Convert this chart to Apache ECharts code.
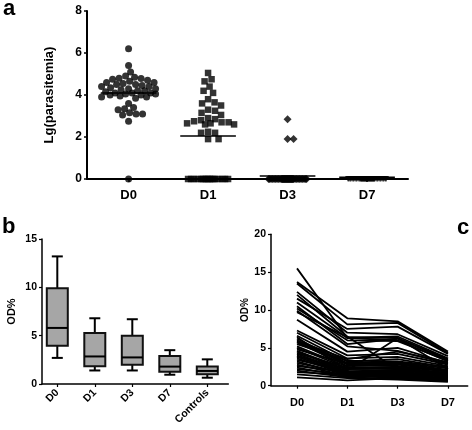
<!DOCTYPE html>
<html><head><meta charset="utf-8">
<script src="https://cdn.jsdelivr.net/npm/echarts@6/dist/echarts.min.js"></script>
<style>html,body{margin:0;padding:0;background:#fff}#c{width:472px;height:430px}</style>
</head><body><div id="c"></div>
<script>
// ---- Panel a: Lg(parasitemia) per day ----
const daysA = ['D0','D1','D3','D7'];
const lgD0 = [6.2,5.4,5.1,4.9,4.85,4.8,4.78,4.75,4.7,4.65,4.6,4.6,4.55,4.5,4.5,4.45,4.4,4.4,4.35,4.3,4.3,4.25,4.2,4.2,4.15,4.1,4.1,4.1,4.05,4.05,4.0,4.0,3.95,3.9,3.9,3.85,3.6,3.4,3.35,3.3,3.15,3.1,3.1,3.05,2.75,0];
const lgD1 = [5.05,4.75,4.65,4.4,4.2,4.1,3.8,3.65,3.6,3.5,3.3,3.25,3.15,3.05,2.9,2.85,2.8,2.75,2.7,2.7,2.65,2.65,2.6,2.6,2.25,2.2,2.2,1.9,1.9,
  0,0,0,0,0,0,0,0,0,0,0,0,0,0,0,0,0];
const lgD3 = [2.85,1.9,1.9,0,0,0,0,0,0,0,0,0,0,0,0,0,0,0,0,0,0,0,0,0,0,0,0,0,0,0,0,0,0,0,0,0,0,0,0,0,0,0,0,0,0,0];
const lgD7 = [0,0,0,0,0,0,0,0,0,0,0,0,0,0,0,0,0,0,0,0,0,0,0,0,0,0,0,0,0,0,0,0,0,0,0,0,0,0,0,0,0,0,0,0,0,0];
const lgMeans = [4.1, 2.05, 0.14, 0.08];

// ---- Panel b: OD% box plot ----
const boxCats = ['D0','D1','D3','D7','Controls'];
const boxLow  = [2.7, 1.4, 1.4, 0.96, 0.65];
const boxQ1   = [3.95, 1.83, 2.0, 1.28, 1.0];
const boxMed  = [5.8, 2.85, 2.75, 1.8, 1.35];
const boxQ3   = [9.9, 5.27, 5.0, 2.9, 1.8];
const boxHigh = [13.2, 6.8, 6.7, 3.5, 2.55];

// ---- Panel c: OD% per patient ----
const daysC = ['D0','D1','D3','D7'];
const odD0 = [15.5,13.7,13.5,12.4,12.0,11.5,11.0,10.5,10.2,9.9,9.7,8.7,7.3,7.0,6.6,6.4,6.2,6.0,5.9,5.8,5.7,5.5,5.2,5.0,4.8,4.6,4.5,4.3,4.2,4.0,3.9,3.8,3.6,3.4,3.2,3.0,2.8,2.6,2.4,2.2,2.0,1.8,1.5,1.1];
const odD1 = [6.3,8.9,8.1,7.0,6.5,7.5,6.3,5.5,6.0,5.2,6.4,4.5,4.0,3.6,3.2,2.0,3.0,2.9,3.5,2.8,2.6,3.3,2.5,2.3,2.9,2.1,1.9,2.4,1.8,1.7,2.2,1.6,1.5,1.9,1.4,1.6,1.3,1.8,1.2,1.5,1.1,1.4,1.0,0.7];
const odD3 = [6.0,8.5,8.3,6.8,2.1,7.8,6.5,6.2,5.9,4.6,6.3,5.0,4.2,3.8,3.5,6.3,3.1,2.8,4.5,2.6,2.9,3.2,2.4,2.2,3.0,2.0,1.8,2.5,2.1,1.6,2.3,1.9,1.5,1.7,1.4,1.2,1.3,1.6,1.1,1.0,0.9,1.2,0.8,1.0];
const odD7 = [3.2,4.5,4.3,3.9,1.5,4.2,3.6,3.4,3.3,2.9,3.5,3.0,2.8,2.6,2.4,2.2,2.3,2.0,3.1,1.9,1.8,2.5,1.7,1.6,2.1,1.5,1.4,1.9,1.3,1.2,1.6,1.1,1.0,1.3,0.9,0.8,1.0,1.2,0.7,0.9,0.6,0.8,0.5,0.6];

const FONT = 'Liberation Sans';
// grid geometry
const gA = {left:87, top:11, width:321, height:168};
const axA = {min:-0.523, max:3.515};
const gB = {left:42, top:239, width:186.3, height:145};
const axB = {min:-0.408, max:4.56};
const gC = {left:271, top:234.3, width:196.7, height:151.4};
const axC = {min:-0.517, max:3.393};

// beeswarm layout (pixel-space collision, GraphPad-like capped width)
function swarm(vals, gi, diam, capNonZero, capZero) {
  const pxX = gA.width/(axA.max-axA.min), pxY = gA.height/8;
  const placed = [], out = [];
  const order = vals.map((v,i)=>i).sort((a,b)=>vals[b]-vals[a]);
  for (const i of order) {
    const v = vals[i], py = v*pxY;
    const cap = v === 0 ? capZero : capNonZero;
    let best = 0, bestScore = -1, found = false;
    for (let k = 0; k <= cap && !found; k += 0.5) {
      for (const s of (k === 0 ? [0] : [k, -k])) {
        let minD = Infinity;
        for (const p of placed) { const d = Math.hypot(p[0]-s, p[1]-py); if (d < minD) minD = d; }
        if (minD >= diam) { best = s; found = true; break; }
        if (minD > bestScore) { bestScore = minD; best = s; }
      }
    }
    placed.push([best, py]);
    out.push([gi + best/pxX, v]);
  }
  return out;
}

const axisLineStyle = w => ({show:true, onZero:false, lineStyle:{color:'#000', width:w}});
const lbl = (size, extra) => Object.assign({color:'#000', fontFamily:FONT, fontWeight:'bold', fontSize:size}, extra||{});
const letter = (t, x, y) => ({type:'text', x:x, y:y, z:100,
  style:{text:t, fill:'#000', fontFamily:FONT, fontWeight:'bold', fontSize:22, verticalAlign:'middle', align:'left'}});

const chart = echarts.init(document.getElementById('c'), null, {renderer:'canvas'});

const lineSeries = odD0.map((v,i)=>({
  type:'line', xAxisIndex:2, yAxisIndex:2, symbol:'none', silent:true, animation:false,
  lineStyle:{color:'#000', width:1.8}, z:2,
  data:[[0,odD0[i]],[1,odD1[i]],[2,odD3[i]],[3,odD7[i]]]
}));

const option = {
  animation:false,
  backgroundColor:'#fff',
  grid:[gA, gB, gC],
  xAxis:[
    {type:'value', gridIndex:0, min:axA.min, max:axA.max, splitLine:{show:false},
     axisLine:axisLineStyle(2), axisTick:{show:true, length:3, lineStyle:{width:1.5,color:'#000'}, customValues:[0,1,2,3]},
     axisLabel:lbl(13,{margin:10, customValues:[0,1,2,3], formatter:v=>daysA[Math.round(v)]})},
    {type:'value', gridIndex:1, min:axB.min, max:axB.max, splitLine:{show:false},
     axisLine:axisLineStyle(1.5), axisTick:{show:true, length:3, lineStyle:{width:1.2,color:'#000'}, customValues:[0,1,2,3,4]},
     axisLabel:lbl(10.5,{margin:7, rotate:45, customValues:[0,1,2,3,4], formatter:v=>boxCats[Math.round(v)]})},
    {type:'value', gridIndex:2, min:axC.min, max:axC.max, splitLine:{show:false},
     axisLine:axisLineStyle(1.5), axisTick:{show:true, length:3, lineStyle:{width:1.2,color:'#000'}, customValues:[0,1,2,3]},
     axisLabel:lbl(11,{margin:12, customValues:[0,1,2,3], formatter:v=>daysC[Math.round(v)]})}
  ],
  yAxis:[
    {type:'value', gridIndex:0, min:0, max:8, interval:2, splitLine:{show:false},
     axisLine:axisLineStyle(2), axisTick:{show:true, length:3, lineStyle:{width:1.5,color:'#000'}},
     axisLabel:lbl(12,{margin:5}),
     name:'Lg(parasitemia)', nameLocation:'middle', nameGap:31, nameRotate:90, nameTextStyle:lbl(13)},
    {type:'value', gridIndex:1, min:0, max:15, interval:5, splitLine:{show:false},
     axisLine:axisLineStyle(1.5), axisTick:{show:true, length:3, lineStyle:{width:1.2,color:'#000'}},
     axisLabel:lbl(10.5,{margin:5}),
     name:'OD%', nameLocation:'middle', nameGap:25, nameRotate:90, nameTextStyle:lbl(11)},
    {type:'value', gridIndex:2, min:0, max:20, interval:5, splitLine:{show:false},
     axisLine:axisLineStyle(1.5), axisTick:{show:true, length:3, lineStyle:{width:1.2,color:'#000'}},
     axisLabel:lbl(10.5,{margin:5}),
     name:'OD%', nameLocation:'middle', nameGap:18, nameRotate:90, nameTextStyle:lbl(10)}
  ],
  graphic:[ letter('a', 3, 9), letter('b', 2, 227), letter('c', 457, 228) ],
  series:[
    {type:'scatter', xAxisIndex:0, yAxisIndex:0, symbol:'circle', symbolSize:7, clip:false,
     itemStyle:{color:'#000'}, data:swarm(lgD0,0,6.5,27,20), z:3},
    {type:'scatter', xAxisIndex:0, yAxisIndex:0, symbol:'rect', symbolSize:6.5, clip:false,
     itemStyle:{color:'#000'}, data:swarm(lgD1,1,7,26,20), z:3},
    {type:'scatter', xAxisIndex:0, yAxisIndex:0, symbol:'diamond', symbolSize:8, clip:false,
     itemStyle:{color:'#000'}, data:swarm(lgD3,2,6,26,19), z:3},
    {type:'scatter', xAxisIndex:0, yAxisIndex:0, symbol:'triangle', symbolRotate:180, symbolSize:6, clip:false,
     itemStyle:{color:'#000'}, data:swarm(lgD7,3,6,26,19), z:3},
    {type:'custom', xAxisIndex:0, yAxisIndex:0, z:4, clip:false,
     data:lgMeans.map((m,i)=>[i,m]),
     renderItem:(p,api)=>{
       const a = api.coord([api.value(0)-0.35, api.value(1)]);
       const b = api.coord([api.value(0)+0.35, api.value(1)]);
       return {type:'line', shape:{x1:a[0],y1:a[1],x2:b[0],y2:b[1]}, style:{stroke:'#000', lineWidth:1.5}};
     }},
    {type:'custom', xAxisIndex:1, yAxisIndex:1, z:3,
     data:boxCats.map((c,i)=>[i,boxLow[i],boxQ1[i],boxMed[i],boxQ3[i],boxHigh[i]]),
     renderItem:(p,api)=>{
       const i = api.value(0);
       const bw = 21, cw = 11;
       const pLow = api.coord([i, api.value(1)]), pQ1 = api.coord([i, api.value(2)]);
       const pMed = api.coord([i, api.value(3)]), pQ3 = api.coord([i, api.value(4)]);
       const pHigh = api.coord([i, api.value(5)]);
       const x = pLow[0];
       const st = {stroke:'#000', lineWidth:2};
       return {type:'group', children:[
         {type:'line', shape:{x1:x,y1:pHigh[1],x2:x,y2:pQ3[1]}, style:st},
         {type:'line', shape:{x1:x,y1:pQ1[1],x2:x,y2:pLow[1]}, style:st},
         {type:'line', shape:{x1:x-cw/2,y1:pHigh[1],x2:x+cw/2,y2:pHigh[1]}, style:st},
         {type:'line', shape:{x1:x-cw/2,y1:pLow[1],x2:x+cw/2,y2:pLow[1]}, style:st},
         {type:'rect', shape:{x:x-bw/2, y:pQ3[1], width:bw, height:pQ1[1]-pQ3[1]}, style:{fill:'#a6a6a6', stroke:'#111', lineWidth:2}},
         {type:'line', shape:{x1:x-bw/2,y1:pMed[1],x2:x+bw/2,y2:pMed[1]}, style:st}
       ]};
     }}
  ].concat(lineSeries)
};
chart.setOption(option);
</script></body></html>
